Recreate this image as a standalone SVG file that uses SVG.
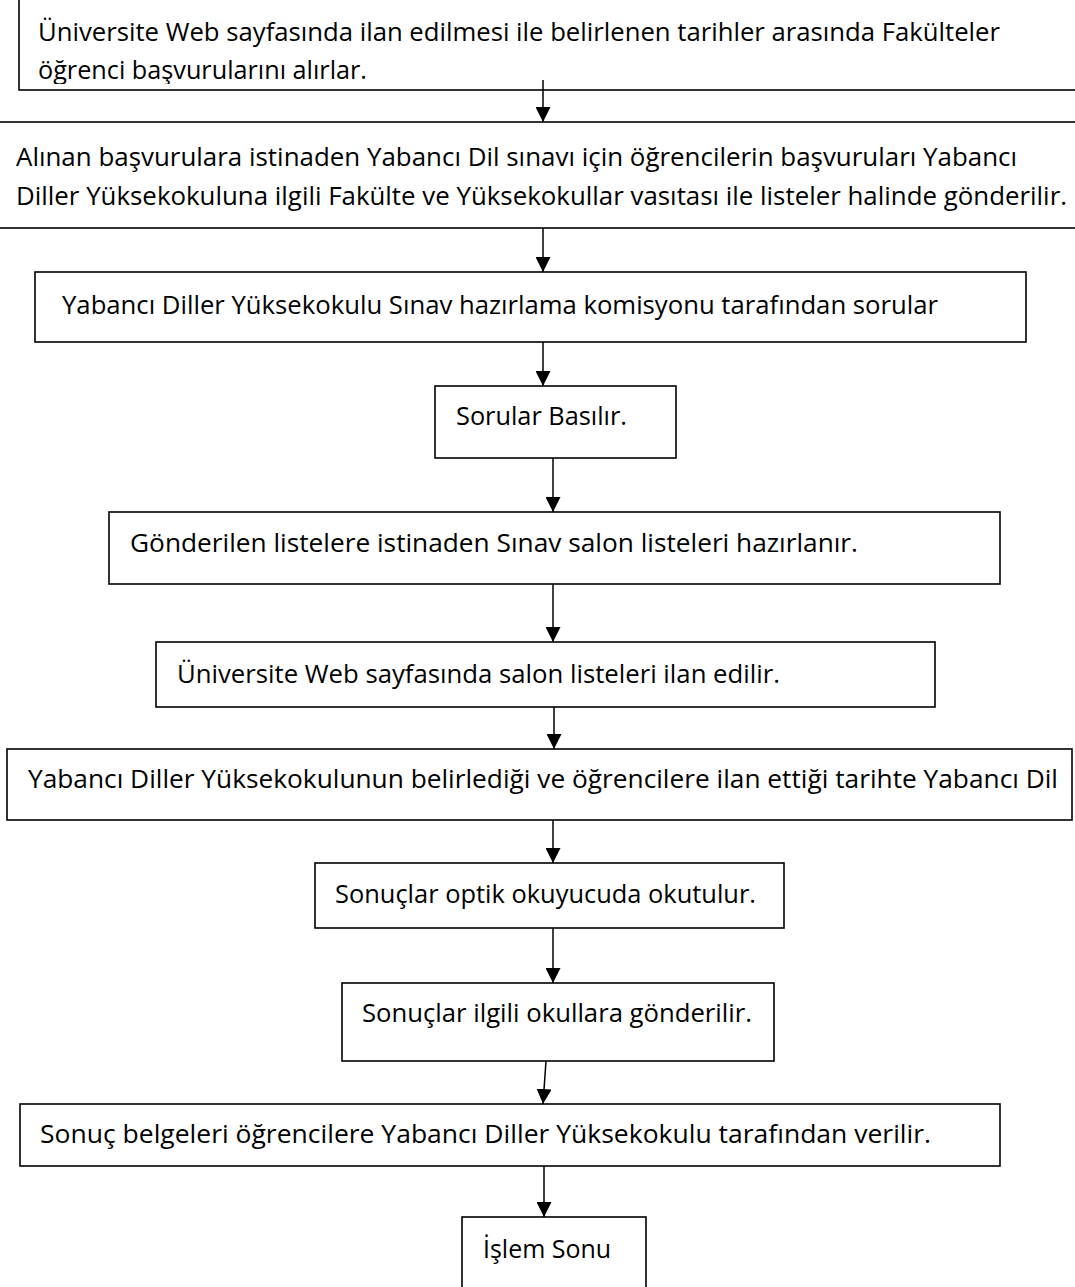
<svg xmlns="http://www.w3.org/2000/svg" width="1075" height="1287" viewBox="0 0 1075 1287">
<style>
.box{fill:#fff;stroke:#000;stroke-width:1.6}
.t{font-family:"Open Sans","Noto Sans","DejaVu Sans",sans-serif;font-size:25px;fill:#000}
.c{stroke:#000;stroke-width:1.5;fill:none}
</style>
<defs>
<marker id="ah" markerUnits="userSpaceOnUse" markerWidth="15" markerHeight="15" refX="15" refY="7.5" orient="auto">
<path d="M0,0 L15,7.5 L0,15 z" fill="#000"/>
</marker>
<clipPath id="clip1"><rect x="19" y="0" width="1060" height="84"/></clipPath>
</defs>
<rect width="1075" height="1287" fill="#fff"/>
<g id="n1">
<rect class="box" x="19" y="-10" width="1070" height="100"/>
<g clip-path="url(#clip1)">
<text class="t" x="38" y="41" textLength="962" lengthAdjust="spacingAndGlyphs">Üniversite Web sayfasında ilan edilmesi ile belirlenen tarihler arasında Fakülteler</text>
<text class="t" x="38" y="79" textLength="329" lengthAdjust="spacingAndGlyphs">öğrenci başvurularını alırlar.</text>
</g>
</g>
<g id="n2">
<rect class="box" x="-5" y="122" width="1085" height="106"/>
<text class="t" x="16" y="166" textLength="1001" lengthAdjust="spacingAndGlyphs">Alınan başvurulara istinaden Yabancı Dil sınavı için öğrencilerin başvuruları Yabancı</text>
<text class="t" x="16" y="205" textLength="1051" lengthAdjust="spacingAndGlyphs">Diller Yüksekokuluna ilgili Fakülte ve Yüksekokullar vasıtası ile listeler halinde gönderilir.</text>
</g>
<g id="n3">
<rect class="box" x="35" y="272" width="991" height="70"/>
<text class="t" x="62" y="314" textLength="876" lengthAdjust="spacingAndGlyphs">Yabancı Diller Yüksekokulu Sınav hazırlama komisyonu tarafından sorular</text>
</g>
<g id="n4">
<rect class="box" x="435" y="386" width="241" height="72"/>
<text class="t" x="456" y="425" textLength="171" lengthAdjust="spacingAndGlyphs">Sorular Basılır.</text>
</g>
<g id="n5">
<rect class="box" x="109" y="512" width="891" height="72"/>
<text class="t" x="130" y="552" textLength="728" lengthAdjust="spacingAndGlyphs">Gönderilen listelere istinaden Sınav salon listeleri hazırlanır.</text>
</g>
<g id="n6">
<rect class="box" x="156" y="642" width="779" height="65"/>
<text class="t" x="177" y="683" textLength="603" lengthAdjust="spacingAndGlyphs">Üniversite Web sayfasında salon listeleri ilan edilir.</text>
</g>
<g id="n7">
<rect class="box" x="7" y="749" width="1065" height="71"/>
<text class="t" x="28" y="788" textLength="1030" lengthAdjust="spacingAndGlyphs">Yabancı Diller Yüksekokulunun belirlediği ve öğrencilere ilan ettiği tarihte Yabancı Dil</text>
</g>
<g id="n8">
<rect class="box" x="315" y="863" width="469" height="65"/>
<text class="t" x="335" y="903" textLength="421" lengthAdjust="spacingAndGlyphs">Sonuçlar optik okuyucuda okutulur.</text>
</g>
<g id="n9">
<rect class="box" x="342" y="983" width="432" height="78"/>
<text class="t" x="362" y="1022" textLength="390" lengthAdjust="spacingAndGlyphs">Sonuçlar ilgili okullara gönderilir.</text>
</g>
<g id="n10">
<rect class="box" x="20" y="1104" width="980" height="62"/>
<text class="t" x="40" y="1143" textLength="891" lengthAdjust="spacingAndGlyphs">Sonuç belgeleri öğrencilere Yabancı Diller Yüksekokulu tarafından verilir.</text>
</g>
<g id="n11">
<rect class="box" x="462" y="1217" width="184" height="90"/>
<text class="t" x="483" y="1258" textLength="128" lengthAdjust="spacingAndGlyphs">İşlem Sonu</text>
</g>
<g id="connectors">
<line class="c" x1="543" y1="80" x2="543" y2="122" marker-end="url(#ah)"/>
<line class="c" x1="543" y1="228" x2="543" y2="272" marker-end="url(#ah)"/>
<line class="c" x1="543" y1="342" x2="543" y2="386" marker-end="url(#ah)"/>
<line class="c" x1="553" y1="458" x2="553" y2="512" marker-end="url(#ah)"/>
<line class="c" x1="553" y1="584" x2="553" y2="642" marker-end="url(#ah)"/>
<line class="c" x1="554" y1="707" x2="554" y2="749" marker-end="url(#ah)"/>
<line class="c" x1="553" y1="820" x2="553" y2="863" marker-end="url(#ah)"/>
<line class="c" x1="553" y1="928" x2="553" y2="983" marker-end="url(#ah)"/>
<line class="c" x1="546" y1="1061" x2="543" y2="1104" marker-end="url(#ah)"/>
<line class="c" x1="544" y1="1166" x2="544" y2="1217" marker-end="url(#ah)"/>
</g>
</svg>
